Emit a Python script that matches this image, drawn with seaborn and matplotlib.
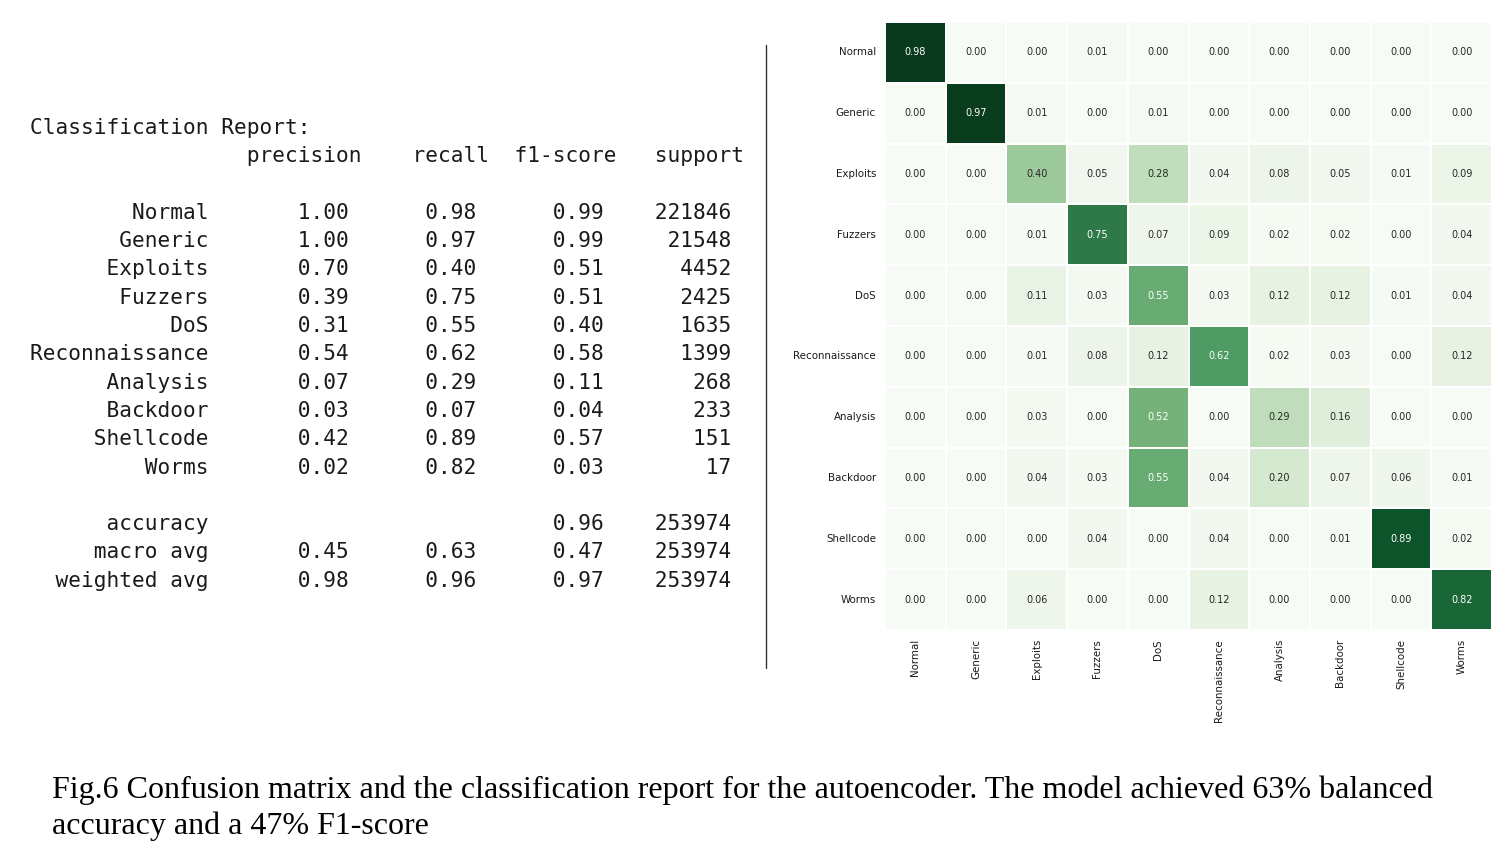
import numpy as np
import pandas as pd
import matplotlib
matplotlib.use('Agg')
import matplotlib.pyplot as plt
from matplotlib.lines import Line2D
from matplotlib.colors import ListedColormap
import seaborn as sns

classes = ['Normal', 'Generic', 'Exploits', 'Fuzzers', 'DoS', 'Reconnaissance',
           'Analysis', 'Backdoor', 'Shellcode', 'Worms']

# normalised confusion matrix (rows = true, cols = predicted)
cm_rows = [
    [0.98, 0.00, 0.00, 0.01, 0.00, 0.00, 0.00, 0.00, 0.00, 0.00],
    [0.00, 0.97, 0.01, 0.00, 0.01, 0.00, 0.00, 0.00, 0.00, 0.00],
    [0.00, 0.00, 0.40, 0.05, 0.28, 0.04, 0.08, 0.05, 0.01, 0.09],
    [0.00, 0.00, 0.01, 0.75, 0.07, 0.09, 0.02, 0.02, 0.00, 0.04],
    [0.00, 0.00, 0.11, 0.03, 0.55, 0.03, 0.12, 0.12, 0.01, 0.04],
    [0.00, 0.00, 0.01, 0.08, 0.12, 0.62, 0.02, 0.03, 0.00, 0.12],
    [0.00, 0.00, 0.03, 0.00, 0.52, 0.00, 0.29, 0.16, 0.00, 0.00],
    [0.00, 0.00, 0.04, 0.03, 0.55, 0.04, 0.20, 0.07, 0.06, 0.01],
    [0.00, 0.00, 0.00, 0.04, 0.00, 0.04, 0.00, 0.01, 0.89, 0.02],
    [0.00, 0.00, 0.06, 0.00, 0.00, 0.12, 0.00, 0.00, 0.00, 0.82],
]

# classification report values
precision = [1.00, 1.00, 0.70, 0.39, 0.31, 0.54, 0.07, 0.03, 0.42, 0.02]
recall = [0.98, 0.97, 0.40, 0.75, 0.55, 0.62, 0.29, 0.07, 0.89, 0.82]
f1 = [0.99, 0.99, 0.51, 0.51, 0.40, 0.58, 0.11, 0.04, 0.57, 0.03]
support = [221846, 21548, 4452, 2425, 1635, 1399, 268, 233, 151, 17]
accuracy = 0.96
total = 253974
macro = [0.45, 0.63, 0.47]
weighted = [0.98, 0.96, 0.97]

caption_lines = ['Fig.6 Confusion matrix and the classification report for the autoencoder. '
                 'The model achieved 63% balanced',
                 'accuracy and a 47% F1-score']

# build the sklearn style report text
width = max(len(c) for c in classes)
headers = ['precision', 'recall', 'f1-score', 'support']
lines = ['Classification Report:']
lines.append(' ' + ('{:>{w}s} ' + ' {:>9}' * 4).format('', *headers, w=width))
lines.append('')
for c, p, r, f, s in zip(classes, precision, recall, f1, support):
    lines.append(('{:>{w}s} ' + ' {:>9.2f}' * 3 + ' {:>9}').format(c, p, r, f, s, w=width))
lines.append('')
lines.append(('{:>{w}s} ' + ' {:>9}' * 2 + ' {:>9.2f} {:>9}').format('accuracy', '', '', accuracy, total, w=width))
lines.append(('{:>{w}s} ' + ' {:>9.2f}' * 3 + ' {:>9}').format('macro avg', *macro, total, w=width))
lines.append(('{:>{w}s} ' + ' {:>9.2f}' * 3 + ' {:>9}').format('weighted avg', *weighted, total, w=width))

sns.set_theme(style='white')
plt.rcParams['font.family'] = ['DejaVu Sans']

W, H = 1512, 856
fig = plt.figure(figsize=(W / 100, H / 100), dpi=100)

# report text, one line at a time
y0 = 128
step = 28.3
for i, line in enumerate(lines):
    fig.text(30 / W, 1 - (y0 + i * step) / H, line, family='DejaVu Sans Mono',
             fontsize=15.2, color='#1a1a1a', ha='left', va='center')

# separator
fig.add_artist(Line2D([766 / W, 766 / W], [1 - 45 / H, 1 - 668 / H],
                      color='#333333', lw=1.0))

# slightly muted greens, the screenshot looks washed out
greens = ListedColormap([sns.desaturate(c, 0.72) for c in sns.color_palette('Greens', 256)])

# confusion matrix
df = pd.DataFrame(np.array(cm_rows), index=classes, columns=classes)
ax = fig.add_axes([885 / W, 1 - 630 / H, 607 / W, 608 / H])
sns.heatmap(df, annot=True, fmt='.2f', cmap=greens, cbar=False,
            linewidths=1.2, linecolor='white', square=False,
            annot_kws={'fontsize': 7}, ax=ax)
ax.tick_params(axis='both', labelsize=7.4, colors='#1a1a1a', length=3, width=0.6)
ax.set_yticklabels(ax.get_yticklabels(), rotation=0)
ax.set_xticklabels(ax.get_xticklabels(), rotation=90)
ax.set_xlabel('')
ax.set_ylabel('')

# caption
for i, cl in enumerate(caption_lines):
    fig.text(52 / W, 1 - (790 + i * 36) / H, cl, family='Liberation Serif', fontsize=23,
             color='black', ha='left', va='center')

fig.savefig('out.png', dpi=100)
